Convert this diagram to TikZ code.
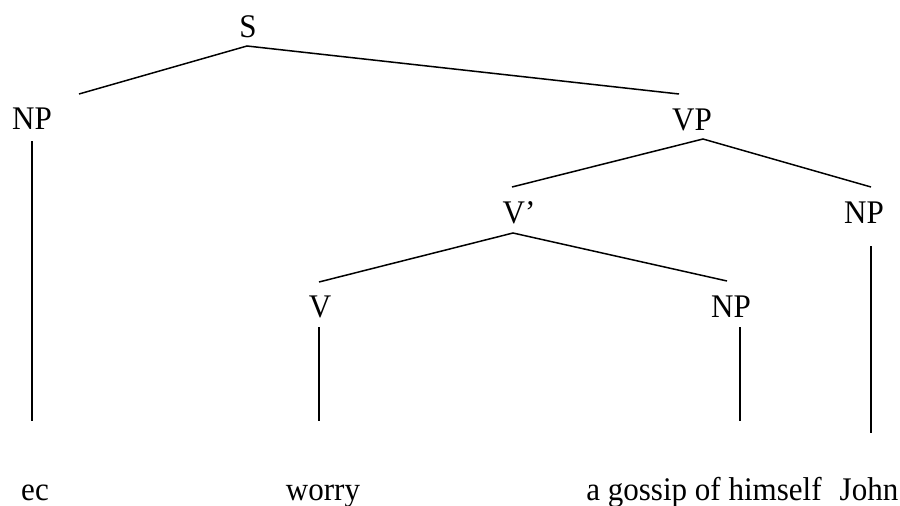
\documentclass[tikz,border=0pt]{standalone}
\usepackage{fontspec}
\setmainfont{Liberation Serif}[FakeStretch=0.94]
\begin{document}
\begin{tikzpicture}[x=1pt,y=-1pt,
  lbl/.style={anchor=base,inner sep=0pt,font=\fontsize{33}{38}\selectfont},
  edge/.style={line width=1.5pt,line cap=butt}]
\useasboundingbox (0,0) rectangle (900,506);
% labels
\node[lbl] (S) at (248,37) {S};
\node[lbl] (NPa) at (32,129) {NP};
\node[lbl] (VP) at (692,130) {VP};
\node[lbl] (Vbar) at (519,223) {V’};
\node[lbl] (NPr) at (864,223) {NP};
\node[lbl] (V) at (320,317) {V};
\node[lbl] (NPm) at (731,317) {NP};
\node[lbl] (ec) at (35,500) {ec};
\node[lbl] (worry) at (323,500) {worry};
\node[lbl] (gossip) at (704,500) {a gossip of himself};
\node[lbl] (john) at (869,500) {John};
% line ends
\coordinate (sT) at (247,46);
\coordinate (npaT) at (79,94);
\coordinate (vpT) at (679,94);
\coordinate (npaB) at (32,141);
\coordinate (ecT) at (32,421);
\coordinate (vpB) at (703,139);
\coordinate (vbarT) at (512,187);
\coordinate (nprT) at (871,187);
\coordinate (vbarB) at (513,233);
\coordinate (vT) at (319,282);
\coordinate (npmT) at (727,281);
\coordinate (nprB) at (871,246);
\coordinate (johnT) at (871,433);
\coordinate (vB) at (319,327);
\coordinate (worryT) at (319,421);
\coordinate (npmB) at (740,327);
\coordinate (gossipT) at (740,421);
% edges
\draw[edge] (npaT) -- (sT) -- (vpT);
\draw[edge] (npaB) -- (ecT);
\draw[edge] (vbarT) -- (vpB) -- (nprT);
\draw[edge] (vT) -- (vbarB) -- (npmT);
\draw[edge] (nprB) -- (johnT);
\draw[edge] (vB) -- (worryT);
\draw[edge] (npmB) -- (gossipT);
\end{tikzpicture}
\end{document}
